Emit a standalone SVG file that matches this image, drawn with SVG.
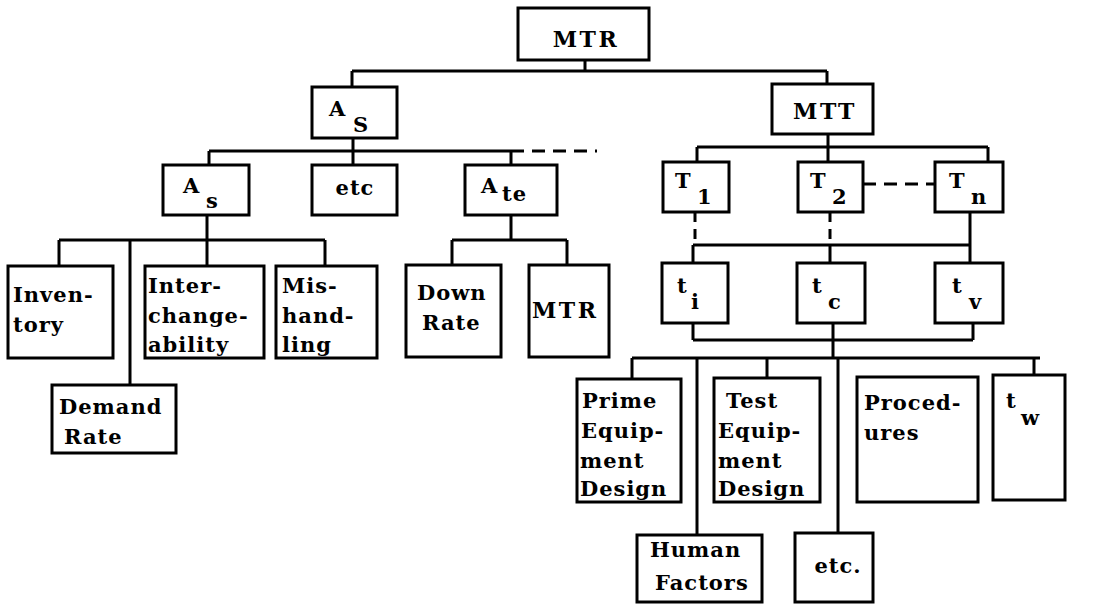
<svg xmlns="http://www.w3.org/2000/svg" width="1105" height="604" viewBox="0 0 1105 604">
<style>
rect{fill:#fff;stroke:#000;stroke-width:3}
text{font-family:"DejaVu Serif","Liberation Serif",serif;font-size:21px;font-weight:bold;letter-spacing:1px;fill:#000}
.c{text-anchor:middle}
.w{letter-spacing:2.5px;font-size:22px}
.ln{fill:none;stroke:#000;stroke-width:3}
.d{fill:none;stroke:#000;stroke-width:3;stroke-dasharray:13 8}
</style>
<rect x="0" y="0" width="1105" height="604" style="stroke:none"/>
<g id="connectors">
<path class="ln" d="M585 60V71M352 71H827M352 71V87M827 71V84"/>
<path class="ln" d="M353 138V165M209 151H511M209 151V165M511 151V165"/>
<path class="d" d="M511 151H597"/>
<path class="ln" d="M828 134V162M697 147H988M697 147V162M988 147V162"/>
<path class="d" d="M863 184H935"/>
<path class="ln" d="M207 215V240M59 240H325M59 240V266M130 240V385M207 240V266M325 240V266"/>
<path class="ln" d="M511 215V240M452 240H567M452 240V265M567 240V265"/>
<path class="d" d="M695 212V245M830 212V245" style="stroke-dasharray:10 7"/>
<path class="ln" d="M970 212V263M693 245H970M693 245V263M830 245V263"/>
<path class="ln" d="M693 323V340M973 323V340M693 340H973M833 323V358M632 358H1040"/>
<path class="ln" d="M632 358V379M697 358V535M767 358V378M838 358V533M1034 358V375"/>
</g>
<g id="n-mtr"><rect x="518" y="8" width="131" height="52"/><text class="c w" x="586" y="47">MTR</text></g>
<g id="n-As"><rect x="312" y="87" width="85" height="51"/><text x="329" y="116">A</text><text x="353" y="132">S</text></g>
<g id="n-mtt"><rect x="772" y="84" width="101" height="50"/><text class="c w" x="825" y="119">MTT</text></g>
<g id="n-as"><rect x="163" y="165" width="86" height="50"/><text x="183" y="193">A</text><text x="206" y="208">s</text></g>
<g id="n-etc1"><rect x="312" y="165" width="85" height="50"/><text class="c" x="355" y="195">etc</text></g>
<g id="n-ate"><rect x="465" y="165" width="92" height="50"/><text x="481" y="193">A</text><text x="502" y="201">te</text></g>
<g id="n-t1"><rect x="663" y="162" width="66" height="50"/><text x="675" y="188">T</text><text x="697" y="204">1</text></g>
<g id="n-t2"><rect x="798" y="162" width="65" height="50"/><text x="810" y="188">T</text><text x="832" y="204">2</text></g>
<g id="n-tn"><rect x="935" y="162" width="68" height="50"/><text x="949" y="188">T</text><text x="971" y="204">n</text></g>
<g id="n-ti"><rect x="662" y="263" width="66" height="60"/><text x="677" y="293">t</text><text x="691" y="309">i</text></g>
<g id="n-tc"><rect x="797" y="263" width="68" height="60"/><text x="812" y="293">t</text><text x="828" y="309">c</text></g>
<g id="n-tv"><rect x="935" y="263" width="68" height="60"/><text x="952" y="293">t</text><text x="969" y="309">v</text></g>
<g id="n-inventory"><rect x="8" y="266" width="105" height="92"/><text x="13" y="302">Inven-</text><text x="13" y="332">tory</text></g>
<g id="n-demand"><rect x="52" y="385" width="124" height="68"/><text x="59" y="414">Demand</text><text x="64" y="444">Rate</text></g>
<g id="n-interch"><rect x="145" y="266" width="119" height="92"/><text x="148" y="293">Inter-</text><text x="148" y="323">change-</text><text x="148" y="352">ability</text></g>
<g id="n-mish"><rect x="276" y="266" width="101" height="92"/><text x="282" y="293">Mis-</text><text x="282" y="323">hand-</text><text x="282" y="352">ling</text></g>
<g id="n-down"><rect x="406" y="265" width="95" height="92"/><text x="417" y="300">Down</text><text x="422" y="330">Rate</text></g>
<g id="n-mtr2"><rect x="529" y="265" width="80" height="92"/><text class="w" x="532" y="318">MTR</text></g>
<g id="n-prime"><rect x="577" y="379" width="104" height="123"/><text x="582" y="408">Prime</text><text x="581" y="438">Equip-</text><text x="580" y="468">ment</text><text x="580" y="496">Design</text></g>
<g id="n-test"><rect x="714" y="378" width="106" height="124"/><text x="726" y="408">Test</text><text x="718" y="438">Equip-</text><text x="718" y="468">ment</text><text x="718" y="496">Design</text></g>
<g id="n-proc"><rect x="857" y="377" width="121" height="125"/><text x="864" y="410">Proced-</text><text x="864" y="440">ures</text></g>
<g id="n-tw"><rect x="993" y="375" width="72" height="125"/><text x="1006" y="408">t</text><text x="1021" y="425">w</text></g>
<g id="n-human"><rect x="637" y="535" width="125" height="67"/><text x="650" y="557">Human</text><text x="655" y="590">Factors</text></g>
<g id="n-etc2"><rect x="795" y="533" width="78" height="69"/><text class="c" x="838" y="573">etc.</text></g>
</svg>
